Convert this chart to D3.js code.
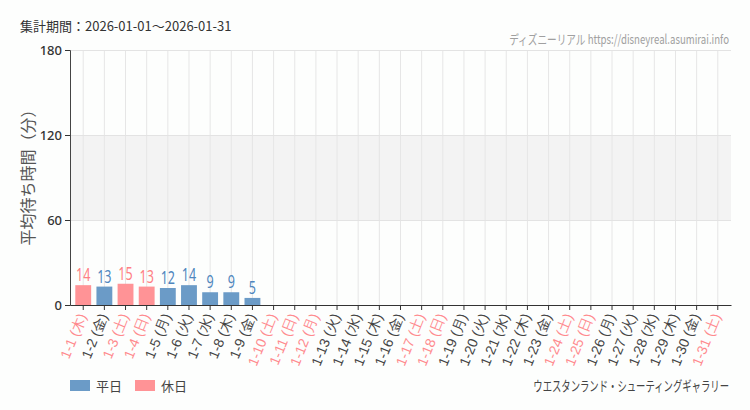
<!DOCTYPE html>
<html>
<head>
<meta charset="utf-8">
<script src="https://cdn.jsdelivr.net/npm/d3@7"></script>
<style>
  body { margin: 0; background: #fdfefd; }
  svg { display: block; font-family: "Noto Sans CJK JP", "Noto Sans", sans-serif; }
</style>
</head>
<body>
<svg id="chart" width="750" height="410"></svg>
<script>
"use strict";

// Chart values
var days = ["1-1","1-2","1-3","1-4","1-5","1-6","1-7","1-8","1-9","1-10",
            "1-11","1-12","1-13","1-14","1-15","1-16","1-17","1-18","1-19","1-20",
            "1-21","1-22","1-23","1-24","1-25","1-26","1-27","1-28","1-29","1-30","1-31"];
var weekdays = ["木","金","土","日","月","火","水","木","金","土",
                "日","月","火","水","木","金","土","日","月","火",
                "水","木","金","土","日","月","火","水","木","金","土"];
var offDays = ["1-1","1-3","1-4","1-10","1-11","1-12","1-17","1-18","1-24","1-25","1-31"];
var waits = [14, 13, 15, 13, 12, 14, 9, 9, 5, null, null, null, null, null, null, null,
             null, null, null, null, null, null, null, null, null, null, null, null, null, null, null];
var yTicks = [0, 60, 120, 180];
var legendItems = ["平日", "休日"];

var colors = { "平日": "#6b9bc7", "休日": "#ff9396" };
var textColors = { "平日": "#4f86bd", "休日": "#ff7f84" };

var svg = d3.select("#chart");
var margin = { left: 70, right: 731, top: 50, bottom: 305 };

var x = d3.scaleBand().domain(days).range([margin.left, margin.right]).padding(0.25);
var y = d3.scaleLinear().domain([0, 180]).range([margin.bottom, margin.top]);

function kind(d) { return offDays.indexOf(d) >= 0 ? "休日" : "平日"; }

// Shaded band between 60 and 120
svg.append("rect")
    .attr("x", margin.left).attr("y", y(120))
    .attr("width", margin.right - margin.left).attr("height", y(60) - y(120))
    .attr("fill", "#f3f3f3");

// Grid
svg.append("g").selectAll("line").data(days).enter().append("line")
    .attr("x1", function(d){ return x(d) + x.bandwidth() / 2; })
    .attr("x2", function(d){ return x(d) + x.bandwidth() / 2; })
    .attr("y1", margin.top).attr("y2", margin.bottom)
    .attr("stroke", "#e6e6e6").attr("stroke-width", 1);
svg.append("g").selectAll("line").data(yTicks.slice(1)).enter().append("line")
    .attr("x1", margin.left).attr("x2", margin.right)
    .attr("y1", function(d){ return y(d) + 0.5; }).attr("y2", function(d){ return y(d) + 0.5; })
    .attr("stroke", "#e3e3e3").attr("stroke-width", 1);

// Bars
var rows = days.map(function(d, i){ return { day: d, wd: weekdays[i], v: waits[i], k: kind(d) }; });
var withValue = rows.filter(function(r){ return r.v !== null; });

svg.append("g").selectAll("rect").data(withValue).enter().append("rect")
    .attr("x", function(r){ return x(r.day); })
    .attr("y", function(r){ return y(r.v); })
    .attr("width", x.bandwidth())
    .attr("height", function(r){ return y(0) - y(r.v); })
    .attr("fill", function(r){ return colors[r.k]; });

// Value labels, narrowed to look like a condensed face
svg.append("g").selectAll("text").data(withValue).enter().append("text")
    .attr("transform", function(r){
        return "translate(" + (x(r.day) + x.bandwidth() / 2) + "," + (y(r.v) - 4) + ") scale(0.66,1)";
    })
    .attr("text-anchor", "middle")
    .attr("font-family", "'Noto Sans', sans-serif")
    .attr("font-size", 19)
    .attr("fill", function(r){ return textColors[r.k]; })
    .text(function(r){ return r.v; });

// Axes
var yAxis = svg.append("g")
    .attr("transform", "translate(" + margin.left + ",0)")
    .call(d3.axisLeft(y).tickValues(yTicks).tickSize(5).tickPadding(3));
yAxis.select(".domain").attr("stroke", "#444");
yAxis.selectAll(".tick line").attr("stroke", "#333");
yAxis.selectAll("text").attr("font-size", 13).attr("fill", "#333")
    .attr("font-family", "'Noto Sans', sans-serif").attr("font-weight", 500);

var xAxis = svg.append("g")
    .attr("transform", "translate(0," + margin.bottom + ")")
    .call(d3.axisBottom(x).tickSize(5).tickSizeOuter(0));
xAxis.select(".domain").attr("stroke", "#333");
xAxis.selectAll(".tick line").attr("stroke", "#333");
xAxis.selectAll(".tick text")
    .text(function(d, i){ return d + " (" + weekdays[i] + ")"; })
    .attr("font-size", 14)
    .attr("fill", function(d){ return kind(d) === "休日" ? "#ff8a8e" : "#444"; })
    .attr("text-anchor", "end")
    .attr("dy", "0.35em")
    .attr("transform", "translate(-1,9) rotate(-68)")
    .attr("x", 0).attr("y", 0);

// Y axis title
svg.append("text")
    .attr("transform", "translate(28," + ((margin.top + margin.bottom) / 2 - 4) + ") rotate(-90)")
    .attr("text-anchor", "middle").attr("dy", "0.35em")
    .attr("font-size", 16).attr("fill", "#555")
    .text("平均待ち時間（分）");

// Header texts
svg.append("text")
    .attr("x", 20).attr("y", 31)
    .attr("font-size", 13).attr("fill", "#333")
    .text("集計期間：2026-01-01～2026-01-31");

// Right-aligned condensed texts: squeeze horizontally to the reference width
function condensed(txt, right, base, size, color, width) {
    var t = svg.append("text")
        .attr("text-anchor", "end")
        .attr("font-size", size).attr("fill", color)
        .text(txt);
    var w = t.node().getComputedTextLength();
    var k = Math.min(1, width / w);
    t.attr("transform", "translate(" + right + "," + base + ") scale(" + k + ",1)");
}
condensed("ディズニーリアル https://disneyreal.asumirai.info", 729, 44, 13, "#a0a0a0", 220);
condensed("ウエスタンランド・シューティングギャラリー", 729, 391, 14, "#444", 196);

// Legend
var legend = svg.append("g").selectAll("g").data(legendItems).enter().append("g")
    .attr("transform", function(d, i){ return "translate(" + (70 + i * 65) + ",380)"; });
legend.append("rect")
    .attr("width", 20).attr("height", 11)
    .attr("fill", function(d){ return colors[d]; });
legend.append("text")
    .attr("x", 26).attr("y", 6).attr("dy", "0.35em")
    .attr("font-size", 13).attr("fill", "#444")
    .text(function(d){ return d; });
</script>
</body>
</html>
